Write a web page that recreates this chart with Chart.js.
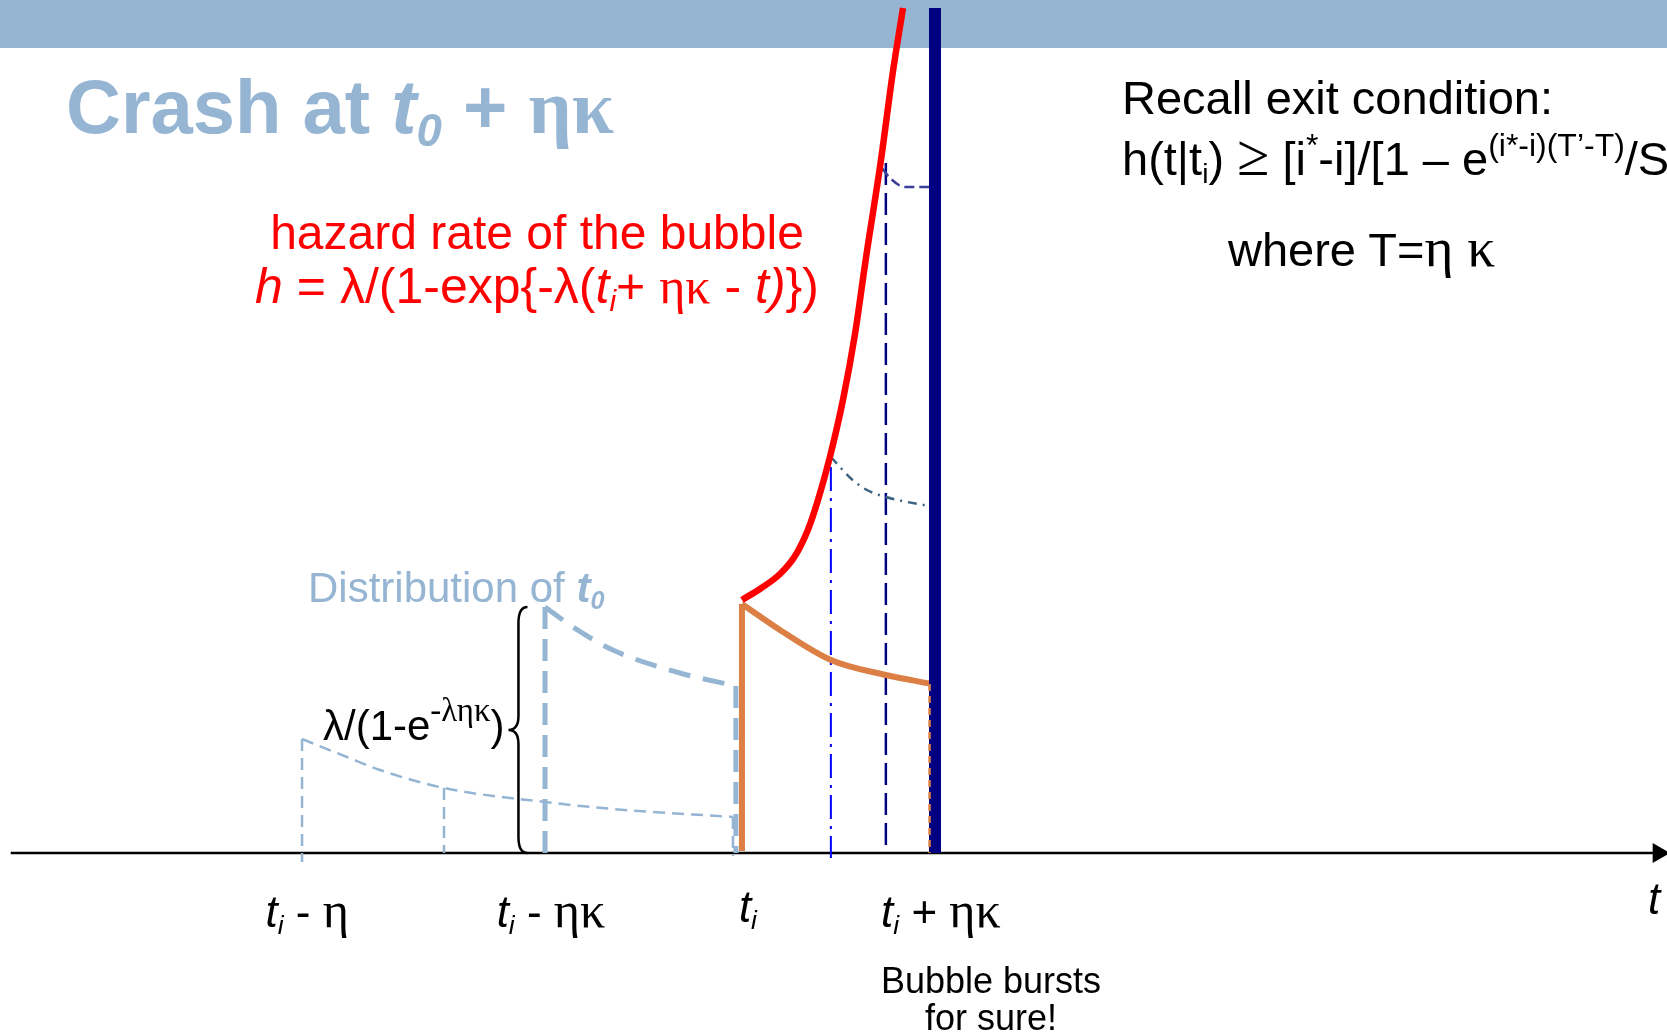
<!DOCTYPE html>
<html>
<head>
<meta charset="utf-8">
<script src="https://cdn.jsdelivr.net/npm/chart.js@4.4.0/dist/chart.umd.min.js"></script>
<style>
body { margin:0; width:1667px; height:1032px; overflow:hidden; background:#fff; position:relative;
       font-family:"Liberation Sans", Arial, sans-serif; }
#band { position:absolute; left:0; top:0; width:1667px; height:48px; background:#95b5d3; }
#wrap { position:absolute; left:0; top:0; width:1667px; height:1032px; }
.t { position:absolute; white-space:nowrap; line-height:1; }
.g { font-family:"Liberation Serif", "Times New Roman", serif; }
sub { font-size:0.6em; vertical-align:-0.28em; line-height:0; }
sup { font-size:0.68em; vertical-align:0.58em; line-height:0; }
.tick { position:absolute; top:885px; font-size:44px; line-height:1; white-space:nowrap; transform:translateX(-50%); }
.tick .g { font-size:1.14em; }
</style>
</head>
<body>
<div id="band"></div>
<div id="wrap"><canvas id="myChart"></canvas></div>

<div class="t" style="left:66px;top:69px;font-size:76px;font-weight:bold;color:#95b5d3">Crash at <i>t<sub>0</sub></i> + <span class="g">ηκ</span></div>

<div class="t" style="left:1122px;top:74px;font-size:47px">Recall exit condition:</div>
<div class="t" style="left:1122px;top:135px;font-size:47px">h(t|t<sub>i</sub>) <span class="g" style="font-size:1.25em;line-height:0">≥</span> [i<sup>*</sup>-i]/[1 – e<sup>(i*-i)(T’-T)</sup>/S</div>
<div class="t" style="left:1228px;top:226px;font-size:47px">where T=<span class="g" style="font-size:1.18em;line-height:0">η κ</span></div>

<div class="t" style="left:0;width:1074px;text-align:center;top:209px;font-size:48px;color:#ff0000">hazard rate of the bubble</div>
<div class="t" style="left:0;width:1074px;text-align:center;top:261px;font-size:50px;color:#ff0000"><i>h</i> = λ/(1-exp{-λ(<i>t<sub>i</sub></i>+ <span class="g">ηκ</span> - <i>t)</i>})</div>

<div class="t" style="left:308px;top:567px;font-size:42px;color:#95b5d3">Distribution of <b><i>t<sub>0</sub></i></b></div>
<div class="t" style="left:323px;top:705px;font-size:42px">λ/(1-e<sup class="g" style="font-size:0.78em">-ληκ</sup>)</div>

<div class="t" style="left:1648px;top:877px;font-size:44px"><i>t</i></div>
<div class="t" style="left:991px;top:962px;font-size:36px;line-height:37px;text-align:center;transform:translateX(-50%)">Bubble bursts<br>for sure!</div>

<script>
// time measured from t_i in units of eta*kappa, hazard in arbitrary units
const tickLabels = ['t_i - η', 't_i - ηκ', 't_i', 't_i + ηκ'];
const tickTimes = [-2.26, -1.01, 0, 0.99];

// hazard rate of the bubble (red)
const hazardT = [0, 0.092, 0.195, 0.272, 0.338, 0.390, 0.451, 0.518, 0.579, 0.636, 0.713, 0.774, 0.826];
const hazardH = [2.53, 2.64, 2.79, 2.97, 3.23, 3.53, 3.96, 4.53, 5.18, 5.95, 6.93, 7.81, 8.45];

// distribution of t0 given t_i (orange)
const densT = [0, 0.195, 0.456, 0.738, 0.974];
const densH = [2.49, 2.23, 1.93, 1.78, 1.69];

// distribution of t0, thick and thin dashed
const distT = [-1.01, -0.867, -0.662, -0.318, -0.031];
const distH = [2.46, 2.26, 2.03, 1.80, 1.67];
const wideT = [-2.256, -2.026, -1.856, -1.528, -1.010, -0.662, -0.046];
const wideH = [1.14, 0.96, 0.83, 0.65, 0.51, 0.44, 0.36];

// exit conditions of later traders
const exitT = [0.456, 0.567, 0.641, 0.738, 0.985];
const exitH = [3.96, 3.73, 3.63, 3.56, 3.46];
const exit2T = [0.718, 0.759, 0.836, 0.974];
const exit2H = [6.85, 6.75, 6.66, 6.66];

// vertical markers: time, top, bottom
const wideMarks = [[-2.256, 1.14, -0.09], [-1.528, 0.65, 0], [-0.046, 0.36, -0.03]];
const distMarks = [[-1.01, 2.46, 0], [-0.031, 1.67, 0]];
const burstT = 0.99, burstTop = 8.45;
const exitLineT = [0.456, 0.738];
const exitLineTop = [3.86, 6.9];

const xMin = -3.805, xMax = 4.744, yMin = -1.79, yMax = 8.53;
const axisFrom = -3.75, axisTo = 4.70;
const braceT = -1.10;

function pts(xs, ys) {
    return xs.map((x, i) => ({ x: x, y: ys[i] }));
}
function vline(x, top, bottom, color, width, dash) {
    return { data: [{ x: x, y: top }, { x: x, y: bottom }], borderColor: color, borderWidth: width,
             borderDash: dash || [], pointRadius: 0, borderCapStyle: 'butt' };
}

const lightBlue = '#95b5d3';
const orange = '#dc7f45';
const navy = '#000080';

var datasets = [
    { data: pts(hazardT, hazardH), borderColor: '#ff0000', borderWidth: 6.5, pointRadius: 0, cubicInterpolationMode: 'monotone' },
    vline(0.962, densH[densH.length - 1], 0, orange, 2.5, [7, 5]),
    vline(burstT, burstTop, 0, navy, 12),
    { data: pts(densT, densH), borderColor: orange, borderWidth: 6, pointRadius: 0, cubicInterpolationMode: 'monotone' },
    vline(0, densH[0], 0.02, orange, 6),
    { data: pts(exitT, exitH), borderColor: '#3c6283', borderWidth: 2.5, pointRadius: 0, borderDash: [9, 6, 2, 6], cubicInterpolationMode: 'monotone' },
    { data: pts(exit2T, exit2H), borderColor: '#3b3f99', borderWidth: 2.5, pointRadius: 0, borderDash: [10, 5], cubicInterpolationMode: 'monotone' },
    vline(exitLineT[0], exitLineTop[0], -0.05, '#0000ff', 2, [24, 7, 3, 7]),
    vline(exitLineT[1], exitLineTop[1], 0, navy, 2.5, [22, 8]),
    { data: pts(distT, distH), borderColor: lightBlue, borderWidth: 5, pointRadius: 0, borderDash: [22, 13], cubicInterpolationMode: 'monotone' },
    { data: pts(wideT, wideH), borderColor: lightBlue, borderWidth: 2.5, pointRadius: 0, borderDash: [12, 7], cubicInterpolationMode: 'monotone' }
];
distMarks.forEach(m => datasets.push(vline(m[0], m[1], m[2], lightBlue, 5, [22, 10])));
wideMarks.forEach(m => datasets.push(vline(m[0], m[1], m[2], lightBlue, 2.5, [12, 7])));
// time axis with arrow head
datasets.push({ data: [{ x: axisFrom, y: 0 }, { x: axisTo, y: 0 }], borderColor: '#000', borderWidth: 2.5,
                pointStyle: 'triangle', pointRotation: 90, pointRadius: [0, 9],
                pointBackgroundColor: '#000', pointBorderColor: '#000' });

function tickHtml(s) {
    return s.replace('t_i', '<i>t</i><sub><i>i</i></sub>').replace(/([ηκ]+)/, '<span class="g">$1</span>');
}
var tickDivs = tickLabels.map(s => {
    var d = document.createElement('div');
    d.className = 'tick';
    d.innerHTML = tickHtml(s);
    document.body.appendChild(d);
    return d;
});

const bracePlugin = {
    id: 'brace',
    afterDraw(chart) {
        const xs = chart.scales.x, ys = chart.scales.y, ctx = chart.ctx;
        const xr = xs.getPixelForValue(braceT);
        const top = ys.getPixelForValue(distH[0]), bot = ys.getPixelForValue(0);
        const mid = top + (bot - top) / 2;
        ctx.save();
        ctx.strokeStyle = '#000';
        ctx.lineWidth = 2.5;
        ctx.beginPath();
        ctx.moveTo(xr, top);
        ctx.quadraticCurveTo(xr - 9, top, xr - 9, top + 16);
        ctx.lineTo(xr - 9, mid - 14);
        ctx.quadraticCurveTo(xr - 9, mid, xr - 19, mid);
        ctx.quadraticCurveTo(xr - 9, mid, xr - 9, mid + 14);
        ctx.lineTo(xr - 9, bot - 16);
        ctx.quadraticCurveTo(xr - 9, bot, xr, bot);
        ctx.stroke();
        ctx.restore();
        // labels under the time axis
        tickDivs.forEach((d, i) => {
            d.style.left = (xs.getPixelForValue(tickTimes[i]) + 6) + 'px';
        });
    }
};

new Chart(document.getElementById('myChart'), {
    type: 'line',
    data: { datasets: datasets },
    options: {
        responsive: true,
        maintainAspectRatio: false,
        animation: false,
        events: [],
        layout: { padding: 0, autoPadding: false },
        plugins: { legend: { display: false }, tooltip: { enabled: false } },
        scales: {
            x: { type: 'linear', min: xMin, max: xMax, display: false },
            y: { type: 'linear', min: yMin, max: yMax, display: false }
        }
    },
    plugins: [bracePlugin]
});
</script>
</body>
</html>
